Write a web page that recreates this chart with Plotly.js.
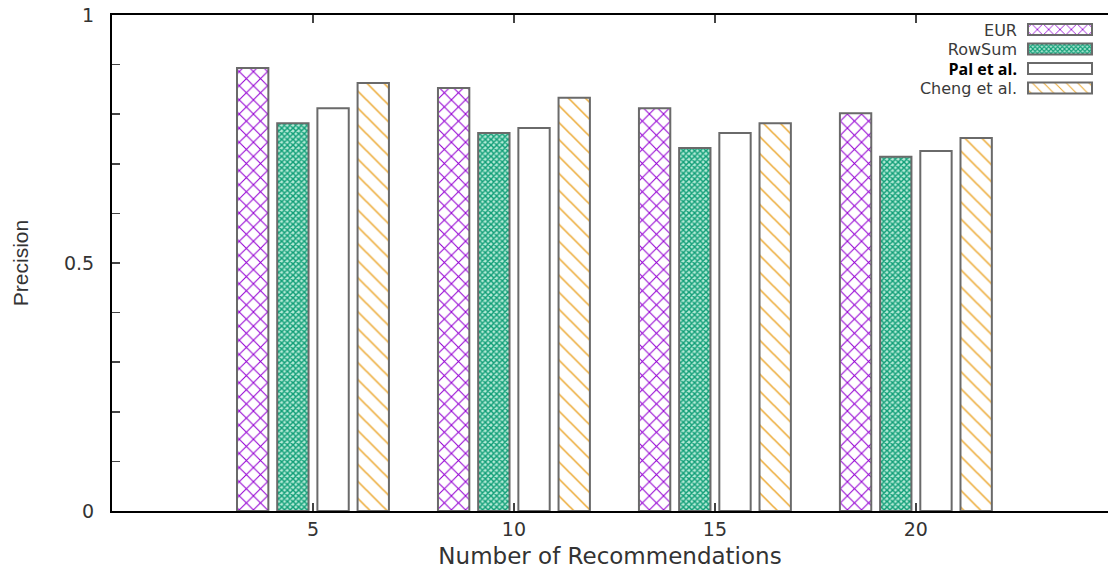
<!DOCTYPE html>
<html>
<head>
<meta charset="utf-8">
<script src="https://cdn.plot.ly/plotly-3.0.1.min.js"></script>
<style>html,body{margin:0;padding:0;background:#fff;}#chart{width:1108px;height:569px;}</style>
</head>
<body>
<div id="chart"></div>
<script>
const categories = [5, 10, 15, 20];
const seriesNames = ["EUR", "RowSum", "Pal et al.", "Cheng et al."];
const eur = [0.893, 0.853, 0.812, 0.802];
const rowSum = [0.782, 0.762, 0.732, 0.714];
const pal = [0.812, 0.772, 0.762, 0.726];
const cheng = [0.863, 0.833, 0.782, 0.752];
const yTickVals = [0, 0.5, 1];
const yTickText = ["0", "0.5", "1"];
const xTickVals = [5, 10, 15, 20];

const border = {color: "#6a6a6a", width: 2};
const traces = [
  {name: seriesNames[0], y: eur, pattern: {shape: "x", fgcolor: "#9400d3", bgcolor: "#ffffff", size: 10, solidity: 0.2}},
  {name: seriesNames[1], y: rowSum, pattern: {shape: "x", fgcolor: "#109e77", bgcolor: "#b4ead6", size: 4, solidity: 0.6}},
  {name: "<b>" + seriesNames[2] + "</b>", y: pal, pattern: {shape: "", fgcolor: "#ffffff", bgcolor: "#ffffff"}},
  {name: seriesNames[3], y: cheng, pattern: {shape: "\\", fgcolor: "#ecaa35", bgcolor: "#ffffff", size: 12, solidity: 0.13}}
].map(t => ({
  type: "bar",
  x: categories,
  y: t.y,
  name: t.name,
  marker: {color: "#ffffff", line: border, pattern: t.pattern},
  hoverinfo: "x+y+name"
}));

const WIDE = "DejaVu Sans, Verdana, sans-serif";
const ARIAL = "Liberation Sans, Arial, sans-serif";
const TXT = "#333333";
const layout = {
  width: 1108, height: 569,
  margin: {l: 112, r: 0, t: 15, b: 58},
  paper_bgcolor: "#ffffff", plot_bgcolor: "#ffffff",
  barmode: "group", bargap: 0.2, bargroupgap: 0.22,
  font: {family: WIDE, color: TXT, size: 19},
  showlegend: true,
  legend: {
    x: 0.78, xanchor: "left", y: 0.975, yanchor: "top",
    bgcolor: "rgba(0,0,0,0)", borderwidth: 0,
    font: {family: WIDE, size: 16, color: "#3a3a3a"},
    tracegroupgap: 0
  },
  xaxis: {
    range: [0, 24.78],
    tickmode: "array", tickvals: xTickVals, ticktext: xTickVals.map(String),
    ticks: "inside", ticklen: 8, tickcolor: "#444", tickwidth: 1.5,
    showline: true, linecolor: "#000000", linewidth: 2, mirror: "ticks",
    showgrid: false, zeroline: false,
    tickfont: {family: WIDE, size: 19, color: TXT},
    title: {text: "Number of Recommendations", font: {family: WIDE, size: 23, color: TXT}, standoff: 10}
  },
  yaxis: {
    range: [0, 1],
    tickmode: "array", tickvals: yTickVals, ticktext: yTickText,
    ticks: "inside", ticklen: 8, tickcolor: "#444", tickwidth: 1.5,
    ticklabelstandoff: 12,
    minor: {dtick: 0.1, ticks: "inside", ticklen: 8, tickcolor: "#444", tickwidth: 1.5, showgrid: false},
    showline: true, linecolor: "#000000", linewidth: 2,
    showgrid: false, zeroline: false,
    tickfont: {family: WIDE, size: 19, color: TXT},
    title: {text: "Precision", font: {family: ARIAL, size: 21, color: TXT}, standoff: 30}
  }
};

// Gnuplot-style legend: right-aligned label followed by a wide swatch.
function restyleLegend(gd) {
  const leg = gd.querySelector("g.legend");
  if (!leg) return;
  const m = /translate\(([-\d.]+)[ ,]+([-\d.]+)\)/.exec(leg.getAttribute("transform") || "");
  const lx = m ? parseFloat(m[1]) : 0, ly = m ? parseFloat(m[2]) : 0;
  leg.querySelectorAll("[clip-path]").forEach(el => el.removeAttribute("clip-path"));
  const bg = leg.querySelector("rect.bg"); if (bg) bg.style.display = "none";
  const textRight = 1017, swatchCenter = 1060, rowTop = 29.5, rowStep = 19.5;
  leg.querySelectorAll("g.traces").forEach((g, i) => {
    g.setAttribute("transform", `translate(0,${rowTop + i * rowStep - ly})`);
    const txt = g.querySelector("text.legendtext");
    if (txt) {
      txt.setAttribute("x", textRight - lx);
      txt.style.textAnchor = "end";
      txt.setAttribute("text-anchor", "end");
      if (i === 2) {
        txt.style.fontFamily = "'Open Sans', 'Noto Sans', sans-serif";
        txt.style.fontSize = "16px";
        txt.style.fill = "#000000";
      }
    }
    const pts = g.querySelector("g.legendpoints");
    if (pts) {
      pts.querySelectorAll("path").forEach(p => {
        p.setAttribute("d", "M32,5.5H-32V-5.5H32Z");
        p.setAttribute("transform", `translate(${swatchCenter - lx},0)`);
      });
    }
  });
}

Plotly.newPlot("chart", traces, layout, {displayModeBar: false, staticPlot: true}).then(restyleLegend);
</script>
</body>
</html>
